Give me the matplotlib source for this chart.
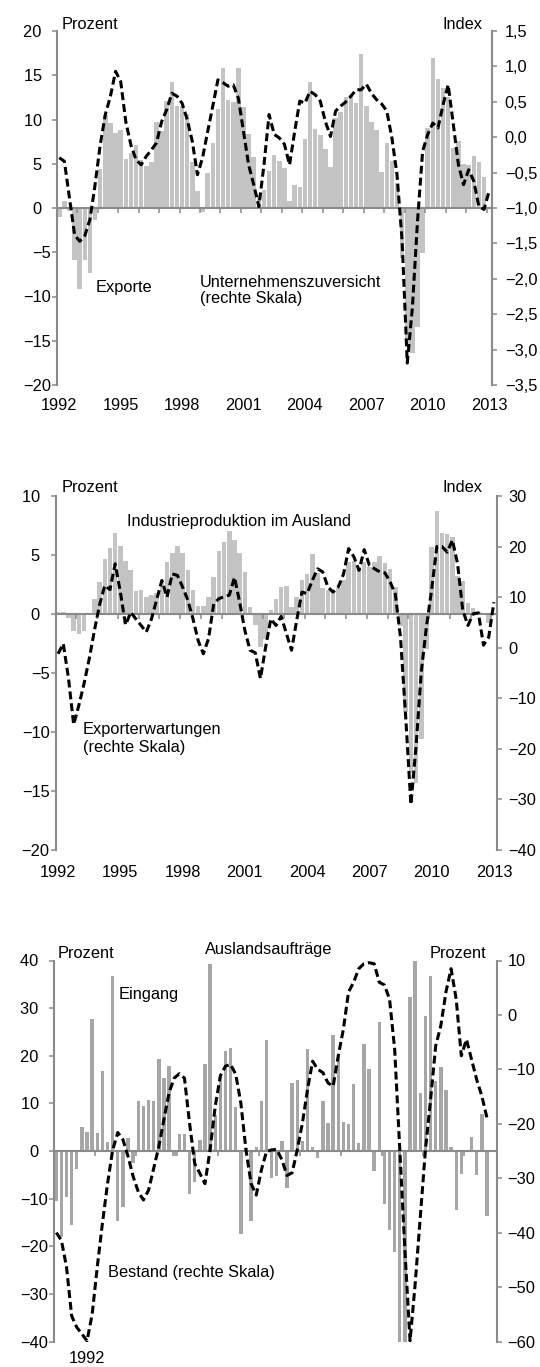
import numpy as np
import matplotlib
matplotlib.use("Agg")
import matplotlib.pyplot as plt

plt.rcParams['font.family'] = ['Liberation Sans', 'DejaVu Sans']
plt.rcParams['font.size'] = 11.8
plt.rcParams['axes.unicode_minus'] = True

nan = np.nan

# ---------------- Panel 1: Exporte / Unternehmenszuversicht (quarterly 1992Q1-2013Q1)
exporte = [-1.05, 0.75, -0.3, -5.9, -9.1, -5.9, -7.3, -1.3, 4.4, 10.5,
           9.6, 8.5, 8.8, 5.5, 6.2, 7.1, 5.4, 4.7, 5.2, 9.7,
           8.7, 12.1, 14.2, 11.5, 11.5, 10.6, 5.2, 1.9, -0.5, 3.9,
           7.4, 11.2, 15.8, 12.2, 12.0, 15.8, 11.4, 8.4, 5.8, 1.5,
           2.0, 4.2, 6.0, 5.3, 4.5, 0.75, 2.6, 2.4, 7.8, 14.2,
           8.9, 8.3, 6.7, 4.6, 10.2, 10.9, 12.5, 12.8, 11.9, 17.4,
           11.5, 9.7, 8.8, 4.1, 7.3, 5.3, 2.8, -5.6, -15.5, -16.4,
           -13.4, -5.1, 9.0, 16.9, 14.6, 13.6, 12.5, 6.8, 7.6, 5.0,
           4.9, 5.9, 5.2, 3.5, nan]
zuversicht = [-0.29, -0.34, -0.86, -1.38, -1.47, -1.39, -1.16, -0.67, -0.11, 0.32,
              0.58, 0.93, 0.79, 0.22, -0.11, -0.32, -0.39, -0.27, -0.18, -0.08,
              0.22, 0.39, 0.62, 0.58, 0.48, 0.25, -0.06, -0.53, -0.29, 0.08,
              0.44, 0.81, 0.77, 0.72, 0.74, 0.55, 0.08, -0.39, -0.67, -0.98,
              -0.39, 0.32, 0.04, -0.01, -0.1, -0.39, 0.08, 0.51, 0.48, 0.65,
              0.6, 0.51, 0.22, 0.01, 0.37, 0.44, 0.5, 0.58, 0.67, 0.67,
              0.75, 0.62, 0.53, 0.47, 0.37, -0.01, -0.53, -1.47, -3.19, -2.41,
              -1.19, -0.2, 0.04, 0.2, 0.13, 0.46, 0.74, 0.18, -0.39, -0.67,
              -0.46, -0.62, -0.98, -1.02, -0.76]

# ---------------- Panel 2: Industrieproduktion im Ausland / Exporterwartungen
ind_prod = [0.17, 0.17, -0.35, -1.4, -1.7, -1.45, 0.05, 1.25, 2.7, 4.66,
            5.56, 6.9, 5.8, 4.5, 3.7, 1.95, 2.0, 1.47, 1.6, 1.8,
            2.8, 4.4, 5.2, 5.8, 5.2, 3.7, 2.0, 0.7, 0.68, 1.4,
            3.1, 5.3, 6.1, 7.0, 6.3, 5.2, 3.6, 0.62, -0.95, -2.8,
            -2.1, 0.3, 1.3, 2.26, 2.4, 0.62, 1.47, 2.9, 3.4, 5.1,
            3.45, 2.2, 2.0, 2.0, 2.2, 2.9, 4.4, 4.5, 4.0, 4.4,
            4.0, 4.4, 4.9, 4.35, 3.8, 2.3, -1.0, -8.3, -13.5, -14.3,
            -10.6, -3.0, 5.7, 8.7, 6.9, 6.8, 6.5, 3.2, 2.8, 0.9,
            0.48, 0.2, 0.1, -0.8, nan]
exporterw = [-1.2, 0.8, -6.0, -15.2, -11.4, -7.1, -2.2, 3.4, 8.5, 12.3,
             11.5, 16.6, 11.0, 4.5, 7.0, 5.7, 4.4, 3.1, 5.7, 9.5,
             13.3, 10.0, 14.6, 14.3, 12.0, 9.4, 5.7, 1.4, -1.2, 1.8,
             8.7, 9.7, 10.1, 10.4, 13.9, 9.0, 3.4, -0.5, -1.0, -6.1,
             0.1, 5.7, 4.4, 6.2, 2.8, -0.5, 5.5, 11.0, 10.7, 13.3,
             15.6, 15.0, 12.0, 11.0, 12.0, 14.5, 19.6, 18.0, 15.3, 19.4,
             16.3, 15.6, 15.0, 14.8, 13.0, 10.6, 2.0, -13.7, -31.0, -19.4,
             -4.8, 4.2, 11.5, 20.0, 20.0, 18.9, 21.3, 16.6, 7.4, 4.4,
             6.7, 6.9, 0.5, 2.1, 9.0]

# ---------------- Panel 3: Auslandsauftraege Eingang / Bestand
eingang = [-10.4, -18.1, -9.6, -15.5, -3.8, 5.1, 4.0, 27.8, 3.8, 16.7,
           1.9, 36.7, -14.7, -11.7, 2.7, -2.6, 10.4, 9.4, 10.8, 10.5,
           19.4, 15.4, 17.8, -1.0, 3.6, 3.6, -9.1, -6.6, 2.3, 18.2,
           39.3, 7.5, 15.7, 20.9, 21.7, 9.3, -17.4, 0.7, -14.6, 0.77,
           10.5, 23.4, -5.7, -5.2, 2.2, -7.7, 14.2, 14.9, 2.0, 21.4,
           0.9, -1.5, 10.5, 5.8, 24.3, 20.4, 6.1, 5.7, 14.0, 1.7,
           22.5, 17.3, -4.3, 27.1, -11.1, -16.5, -21.3, -45.0, -48.0, 32.3,
           40.5, 12.2, 28.3, 36.8, 14.7, 17.7, 12.8, 0.9, -12.4, -4.9,
           0.0, 2.9, -5.0, 7.7, -13.7]
bestand = [-40.0, -41.4, -46.3, -55.3, -57.4, -58.6, -59.9, -55.0, -46.3, -38.3,
           -31.0, -24.8, -21.6, -22.9, -26.0, -29.7, -32.5, -34.0, -32.2, -28.2,
           -24.2, -19.2, -14.3, -11.6, -10.8, -11.6, -19.9, -27.3, -29.1, -31.0,
           -24.8, -16.8, -11.2, -9.4, -9.1, -10.9, -16.2, -24.8, -31.0, -33.1,
           -28.5, -25.1, -24.8, -24.7, -26.6, -29.5, -29.0, -24.8, -19.9, -13.7,
           -8.5, -10.0, -10.6, -12.5, -13.1, -7.5, -2.6, 4.2, 6.0, 8.5,
           9.4, 9.6, 9.4, 6.0, 5.5, 2.9, -6.3, -24.8, -43.3, -59.9,
           -49.4, -37.1, -24.8, -15.6, -5.7, -2.0, 4.2, 8.5, 2.9, -7.5,
           -4.5, -8.2, -11.9, -14.9, -18.9]

# ---------------- tick labels
year_pos = [0, 12, 24, 36, 48, 60, 72, 84]
year_lab = ['1992', '1995', '1998', '2001', '2004', '2007', '2010', '2013']
year_pos3 = [6]
year_lab3 = ['1992']

l1_ticks = [-20, -15, -10, -5, 0, 5, 10, 15, 20]
r1_ticks = [-3.5, -3.0, -2.5, -2.0, -1.5, -1.0, -0.5, 0.0, 0.5, 1.0, 1.5]
l2_ticks = [-20, -15, -10, -5, 0, 5, 10]
r2_ticks = [-40, -30, -20, -10, 0, 10, 20, 30]
l3_ticks = [-40, -30, -20, -10, 0, 10, 20, 30, 40]
r3_ticks = [-60, -50, -40, -30, -20, -10, 0, 10]

W, H = 540, 1367
GREY = '#8a8a8a'
BAR_LIGHT = '#c3c3c3'
BAR_DARK = '#a6a6a6'

fig = plt.figure(figsize=(W / 100, H / 100), dpi=100)


def fmt_left(v):
    if v < 0:
        return '\u2212' + f'{abs(v):g}'
    return f'{v:g}' + '  '


def fmt_right(v, dec):
    s = f'{abs(v):.{dec}f}'.replace('.', ',')
    return ('\u2212' + s) if v < 0 else s


def panel(px, bars, line, bar_color, bar_w, ylim_l, lt, ylim_r, rt, rdec,
          xmax, minor, xpos, xlab, rpad, xpad):
    left, right, top, bottom = px
    ax = fig.add_axes([left / W, 1 - bottom / H, (right - left) / W, (bottom - top) / H])
    n = len(line)
    x = np.arange(n)
    ax.bar(x[:len(bars)], bars, width=bar_w, color=bar_color, linewidth=0, zorder=1)
    ax.set_xlim(-0.5, xmax)
    ax.set_ylim(*ylim_l)
    ax.set_yticks(lt)
    ax.set_yticklabels([fmt_left(v) for v in lt])
    for s in ('top', 'right'):
        ax.spines[s].set_visible(False)
    ax.spines['left'].set_color(GREY)
    ax.spines['left'].set_linewidth(1.5)
    ax.spines['bottom'].set_position(('data', 0))
    ax.spines['bottom'].set_color(GREY)
    ax.spines['bottom'].set_linewidth(1.5)
    ax.spines['bottom'].set_zorder(3)
    ax.tick_params(axis='y', direction='out', length=3.6, width=1.1, color=GREY,
                   pad=0.7, labelsize=11.8, labelcolor='black')
    ax.set_xticks([])
    ax.set_xticks(minor, minor=True)
    ax.tick_params(axis='x', which='minor', direction='out', length=3.4, width=1.1,
                   color=GREY, labelbottom=False)
    sec = ax.secondary_xaxis(0)
    sec.set_xticks(xpos)
    sec.set_xticklabels(xlab)
    sec.tick_params(length=0, pad=xpad, labelsize=11.8)
    sec.spines['bottom'].set_visible(False)

    ax2 = ax.twinx()
    ax2.plot(x, line, color='black', linewidth=2.2, dashes=(2.6, 1.3),
             dash_capstyle='butt', zorder=5)
    ax2.set_ylim(*ylim_r)
    ax2.set_yticks(rt)
    ax2.set_yticklabels([fmt_right(v, rdec) for v in rt])
    for s in ('top', 'left', 'bottom'):
        ax2.spines[s].set_visible(False)
    ax2.spines['right'].set_color(GREY)
    ax2.spines['right'].set_linewidth(1.5)
    ax2.tick_params(axis='y', direction='out', length=3.6, width=1.1, color=GREY,
                    pad=rpad, labelsize=11.8)
    ax2.set_xlim(-0.5, xmax)
    return ax, ax2


minor12 = [k * 4 - 0.5 for k in range(1, 22)]
minor3 = [k * 8 - 0.5 for k in range(1, 11)]

panel((56.7, 491.7, 31, 385), exporte, zuversicht, BAR_LIGHT, 0.88,
      (-20, 20), l1_ticks, (-3.5, 1.5), r1_ticks, 1, 84.5, minor12,
      year_pos, year_lab, 5.8, 9.5)
panel((55.5, 496.5, 496, 850), ind_prod, exporterw, BAR_LIGHT, 0.88,
      (-20, 10), l2_ticks, (-40, 30), r2_ticks, 0, 84.5, minor12,
      year_pos, year_lab, 5.0, 10.5)
panel((53.7, 496.7, 960.5, 1341.5), eingang, bestand, BAR_DARK, 0.66,
      (-40, 40), l3_ticks, (-60, 10), r3_ticks, 0, 85.9, minor3,
      year_pos3, year_lab3, 4.0, 6.5)


def t(s, x, y, ha='left'):
    fig.text(x / W, 1 - y / H, s, ha=ha, va='baseline', fontsize=11.8, color='black')


# Panel 1 texts
t('Prozent', 62, 29)
t('Index', 482, 29, 'right')
t('Exporte', 96, 292)
t('Unternehmenszuversicht', 200, 287)
t('(rechte Skala)', 200, 303)
# Panel 2 texts
t('Prozent', 62, 492)
t('Index', 482, 492, 'right')
t('Industrieproduktion im Ausland', 127, 526)
t('Exporterwartungen', 83, 734)
t('(rechte Skala)', 83, 752)
# Panel 3 texts
t('Prozent', 58, 958)
t('Auslandsaufträge', 205, 954)
t('Prozent', 486, 958, 'right')
t('Eingang', 119, 999)
t('Bestand (rechte Skala)', 108, 1277)

fig.savefig('out.png', dpi=100)
